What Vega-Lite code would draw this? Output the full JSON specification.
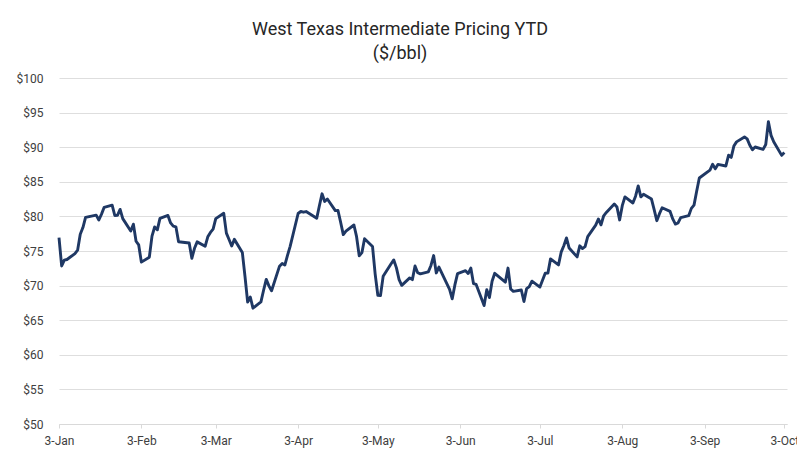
{
  "$schema": "https://vega.github.io/schema/vega-lite/v6.json",
  "width": 728,
  "height": 346,
  "autosize": {"type": "none"},
  "padding": {"left": 59, "top": 78, "right": 10, "bottom": 27},
  "background": "white",
  "config": {
    "font": "Roboto",
    "view": {"stroke": null},
    "title": {"font": "Roboto", "fontSize": 18, "fontWeight": "normal", "color": "#262626", "lineHeight": 24}
  },
  "title": {
    "text": ["West Texas Intermediate Pricing YTD", "($/bbl)"],
    "anchor": "middle",
    "dx": -23,
    "offset": 9
  },
  "data": {
    "values": [
      {"date": "2023-01-03", "price": 76.93},
      {"date": "2023-01-04", "price": 72.84},
      {"date": "2023-01-05", "price": 73.67},
      {"date": "2023-01-06", "price": 73.77},
      {"date": "2023-01-09", "price": 74.63},
      {"date": "2023-01-10", "price": 75.12},
      {"date": "2023-01-11", "price": 77.41},
      {"date": "2023-01-12", "price": 78.39},
      {"date": "2023-01-13", "price": 79.86},
      {"date": "2023-01-17", "price": 80.18},
      {"date": "2023-01-18", "price": 79.48},
      {"date": "2023-01-19", "price": 80.33},
      {"date": "2023-01-20", "price": 81.31},
      {"date": "2023-01-23", "price": 81.62},
      {"date": "2023-01-24", "price": 80.13},
      {"date": "2023-01-25", "price": 80.15},
      {"date": "2023-01-26", "price": 81.01},
      {"date": "2023-01-27", "price": 79.68},
      {"date": "2023-01-30", "price": 77.90},
      {"date": "2023-01-31", "price": 78.87},
      {"date": "2023-02-01", "price": 76.41},
      {"date": "2023-02-02", "price": 75.88},
      {"date": "2023-02-03", "price": 73.39},
      {"date": "2023-02-06", "price": 74.11},
      {"date": "2023-02-07", "price": 77.14},
      {"date": "2023-02-08", "price": 78.47},
      {"date": "2023-02-09", "price": 78.06},
      {"date": "2023-02-10", "price": 79.72},
      {"date": "2023-02-13", "price": 80.14},
      {"date": "2023-02-14", "price": 79.06},
      {"date": "2023-02-15", "price": 78.59},
      {"date": "2023-02-16", "price": 78.49},
      {"date": "2023-02-17", "price": 76.34},
      {"date": "2023-02-21", "price": 76.16},
      {"date": "2023-02-22", "price": 73.95},
      {"date": "2023-02-23", "price": 75.39},
      {"date": "2023-02-24", "price": 76.32},
      {"date": "2023-02-27", "price": 75.68},
      {"date": "2023-02-28", "price": 77.05},
      {"date": "2023-03-01", "price": 77.69},
      {"date": "2023-03-02", "price": 78.16},
      {"date": "2023-03-03", "price": 79.68},
      {"date": "2023-03-06", "price": 80.46},
      {"date": "2023-03-07", "price": 77.58},
      {"date": "2023-03-08", "price": 76.66},
      {"date": "2023-03-09", "price": 75.72},
      {"date": "2023-03-10", "price": 76.68},
      {"date": "2023-03-13", "price": 74.80},
      {"date": "2023-03-14", "price": 71.33},
      {"date": "2023-03-15", "price": 67.61},
      {"date": "2023-03-16", "price": 68.35},
      {"date": "2023-03-17", "price": 66.74},
      {"date": "2023-03-20", "price": 67.64},
      {"date": "2023-03-21", "price": 69.33},
      {"date": "2023-03-22", "price": 70.90},
      {"date": "2023-03-23", "price": 69.96},
      {"date": "2023-03-24", "price": 69.26},
      {"date": "2023-03-27", "price": 72.81},
      {"date": "2023-03-28", "price": 73.20},
      {"date": "2023-03-29", "price": 72.97},
      {"date": "2023-03-30", "price": 74.37},
      {"date": "2023-03-31", "price": 75.67},
      {"date": "2023-04-03", "price": 80.42},
      {"date": "2023-04-04", "price": 80.71},
      {"date": "2023-04-05", "price": 80.61},
      {"date": "2023-04-06", "price": 80.70},
      {"date": "2023-04-10", "price": 79.74},
      {"date": "2023-04-11", "price": 81.53},
      {"date": "2023-04-12", "price": 83.26},
      {"date": "2023-04-13", "price": 82.16},
      {"date": "2023-04-14", "price": 82.52},
      {"date": "2023-04-17", "price": 80.83},
      {"date": "2023-04-18", "price": 80.86},
      {"date": "2023-04-19", "price": 79.16},
      {"date": "2023-04-20", "price": 77.37},
      {"date": "2023-04-21", "price": 77.87},
      {"date": "2023-04-24", "price": 78.76},
      {"date": "2023-04-25", "price": 77.07},
      {"date": "2023-04-26", "price": 74.30},
      {"date": "2023-04-27", "price": 74.76},
      {"date": "2023-04-28", "price": 76.78},
      {"date": "2023-05-01", "price": 75.66},
      {"date": "2023-05-02", "price": 71.66},
      {"date": "2023-05-03", "price": 68.60},
      {"date": "2023-05-04", "price": 68.56},
      {"date": "2023-05-05", "price": 71.34},
      {"date": "2023-05-08", "price": 73.16},
      {"date": "2023-05-09", "price": 73.71},
      {"date": "2023-05-10", "price": 72.56},
      {"date": "2023-05-11", "price": 70.87},
      {"date": "2023-05-12", "price": 70.04},
      {"date": "2023-05-15", "price": 71.11},
      {"date": "2023-05-16", "price": 70.86},
      {"date": "2023-05-17", "price": 72.83},
      {"date": "2023-05-18", "price": 71.86},
      {"date": "2023-05-19", "price": 71.69},
      {"date": "2023-05-22", "price": 71.99},
      {"date": "2023-05-23", "price": 72.91},
      {"date": "2023-05-24", "price": 74.34},
      {"date": "2023-05-25", "price": 71.83},
      {"date": "2023-05-26", "price": 72.67},
      {"date": "2023-05-30", "price": 69.46},
      {"date": "2023-05-31", "price": 68.09},
      {"date": "2023-06-01", "price": 70.10},
      {"date": "2023-06-02", "price": 71.74},
      {"date": "2023-06-05", "price": 72.15},
      {"date": "2023-06-06", "price": 71.74},
      {"date": "2023-06-07", "price": 72.53},
      {"date": "2023-06-08", "price": 70.29},
      {"date": "2023-06-09", "price": 70.17},
      {"date": "2023-06-12", "price": 67.12},
      {"date": "2023-06-13", "price": 69.42},
      {"date": "2023-06-14", "price": 68.27},
      {"date": "2023-06-15", "price": 70.62},
      {"date": "2023-06-16", "price": 71.78},
      {"date": "2023-06-20", "price": 70.50},
      {"date": "2023-06-21", "price": 72.53},
      {"date": "2023-06-22", "price": 69.51},
      {"date": "2023-06-23", "price": 69.16},
      {"date": "2023-06-26", "price": 69.37},
      {"date": "2023-06-27", "price": 67.70},
      {"date": "2023-06-28", "price": 69.56},
      {"date": "2023-06-29", "price": 69.86},
      {"date": "2023-06-30", "price": 70.64},
      {"date": "2023-07-03", "price": 69.79},
      {"date": "2023-07-05", "price": 71.79},
      {"date": "2023-07-06", "price": 71.80},
      {"date": "2023-07-07", "price": 73.86},
      {"date": "2023-07-10", "price": 72.99},
      {"date": "2023-07-11", "price": 74.83},
      {"date": "2023-07-12", "price": 75.75},
      {"date": "2023-07-13", "price": 76.89},
      {"date": "2023-07-14", "price": 75.42},
      {"date": "2023-07-17", "price": 74.15},
      {"date": "2023-07-18", "price": 75.75},
      {"date": "2023-07-19", "price": 75.35},
      {"date": "2023-07-20", "price": 75.63},
      {"date": "2023-07-21", "price": 77.07},
      {"date": "2023-07-24", "price": 78.74},
      {"date": "2023-07-25", "price": 79.63},
      {"date": "2023-07-26", "price": 78.78},
      {"date": "2023-07-27", "price": 80.09},
      {"date": "2023-07-28", "price": 80.58},
      {"date": "2023-07-31", "price": 81.80},
      {"date": "2023-08-01", "price": 81.37},
      {"date": "2023-08-02", "price": 79.49},
      {"date": "2023-08-03", "price": 81.55},
      {"date": "2023-08-04", "price": 82.82},
      {"date": "2023-08-07", "price": 81.94},
      {"date": "2023-08-08", "price": 82.92},
      {"date": "2023-08-09", "price": 84.40},
      {"date": "2023-08-10", "price": 82.82},
      {"date": "2023-08-11", "price": 83.19},
      {"date": "2023-08-14", "price": 82.51},
      {"date": "2023-08-15", "price": 80.99},
      {"date": "2023-08-16", "price": 79.38},
      {"date": "2023-08-17", "price": 80.39},
      {"date": "2023-08-18", "price": 81.25},
      {"date": "2023-08-21", "price": 80.72},
      {"date": "2023-08-22", "price": 79.64},
      {"date": "2023-08-23", "price": 78.89},
      {"date": "2023-08-24", "price": 79.05},
      {"date": "2023-08-25", "price": 79.83},
      {"date": "2023-08-28", "price": 80.10},
      {"date": "2023-08-29", "price": 81.16},
      {"date": "2023-08-30", "price": 81.63},
      {"date": "2023-08-31", "price": 83.63},
      {"date": "2023-09-01", "price": 85.55},
      {"date": "2023-09-05", "price": 86.69},
      {"date": "2023-09-06", "price": 87.54},
      {"date": "2023-09-07", "price": 86.87},
      {"date": "2023-09-08", "price": 87.51},
      {"date": "2023-09-11", "price": 87.29},
      {"date": "2023-09-12", "price": 88.84},
      {"date": "2023-09-13", "price": 88.52},
      {"date": "2023-09-14", "price": 90.16},
      {"date": "2023-09-15", "price": 90.77},
      {"date": "2023-09-18", "price": 91.48},
      {"date": "2023-09-19", "price": 91.20},
      {"date": "2023-09-20", "price": 90.28},
      {"date": "2023-09-21", "price": 89.63},
      {"date": "2023-09-22", "price": 90.03},
      {"date": "2023-09-25", "price": 89.68},
      {"date": "2023-09-26", "price": 90.39},
      {"date": "2023-09-27", "price": 93.68},
      {"date": "2023-09-28", "price": 91.71},
      {"date": "2023-09-29", "price": 90.79},
      {"date": "2023-10-02", "price": 88.82},
      {"date": "2023-10-03", "price": 89.23}
    ]
  },
  "mark": {"type": "line", "color": "#1f3864", "strokeWidth": 2.9, "strokeJoin": "round"},
  "encoding": {
    "x": {
      "field": "date",
      "type": "temporal",
      "scale": {
        "type": "utc",
        "domain": [
          {"year": 2023, "month": 1, "date": 3, "utc": true},
          {"year": 2023, "month": 10, "date": 4, "utc": true}
        ]
      },
      "axis": {
        "title": null,
        "values": [
          {"year": 2023, "month": 1, "date": 3, "utc": true},
          {"year": 2023, "month": 2, "date": 3, "utc": true},
          {"year": 2023, "month": 3, "date": 3, "utc": true},
          {"year": 2023, "month": 4, "date": 3, "utc": true},
          {"year": 2023, "month": 5, "date": 3, "utc": true},
          {"year": 2023, "month": 6, "date": 3, "utc": true},
          {"year": 2023, "month": 7, "date": 3, "utc": true},
          {"year": 2023, "month": 8, "date": 3, "utc": true},
          {"year": 2023, "month": 9, "date": 3, "utc": true},
          {"year": 2023, "month": 10, "date": 3, "utc": true}
        ],
        "format": "%-d-%b",
        "grid": false,
        "domainColor": "#d9d9d9",
        "domainWidth": 1,
        "tickColor": "#d9d9d9",
        "tickSize": 4,
        "labelFont": "Roboto",
        "labelFontSize": 12,
        "labelColor": "#404040",
        "labelPadding": 7,
        "labelOverlap": false,
        "labelFlush": false,
        "labelBound": false
      }
    },
    "y": {
      "field": "price",
      "type": "quantitative",
      "scale": {"domain": [50, 100], "nice": false, "zero": false},
      "axis": {
        "title": null,
        "values": [50, 55, 60, 65, 70, 75, 80, 85, 90, 95, 100],
        "labelExpr": "'$' + datum.value",
        "domain": false,
        "ticks": false,
        "grid": true,
        "gridColor": "#dedede",
        "gridWidth": 1,
        "labelFont": "Roboto",
        "labelFontSize": 12,
        "labelColor": "#404040",
        "labelPadding": 16
      }
    }
  }
}
